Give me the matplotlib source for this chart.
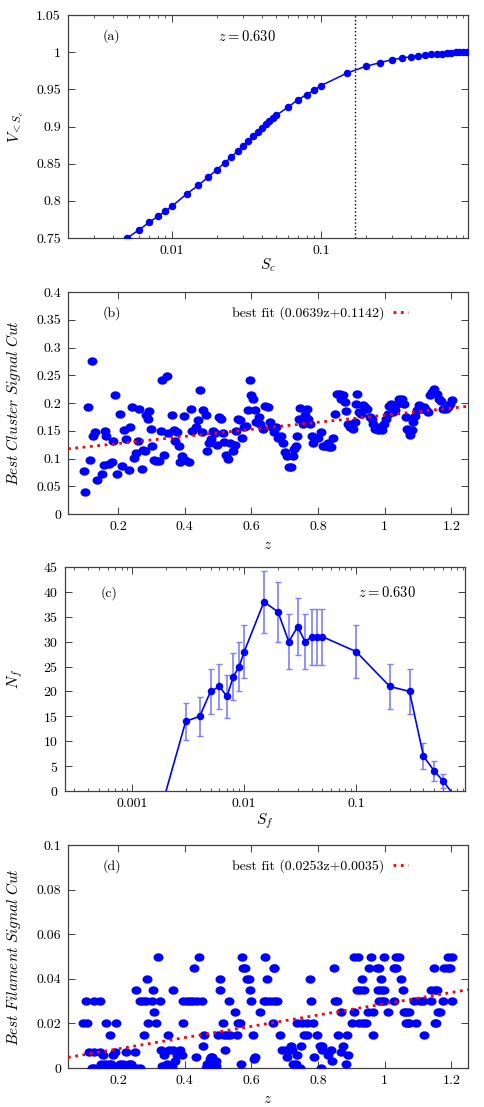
import matplotlib
matplotlib.use('Agg')
import matplotlib.pyplot as plt
from matplotlib.path import Path
from matplotlib.ticker import LogLocator, NullFormatter, FixedLocator
import numpy as np

plt.rcParams['font.family'] = ['cmr10', 'DejaVu Serif']
plt.rcParams['mathtext.fontset'] = 'cm'
plt.rcParams['axes.formatter.use_mathtext'] = True
plt.rcParams['font.size'] = 10

BLUE = '#0000ff'
EBLUE = '#7f7fff'

# (a) cumulative volume fraction vs S_c
sc = [0.005, 0.006, 0.007, 0.008, 0.009, 0.01, 0.0125, 0.015, 0.0175, 0.02, 0.0225,
      0.025, 0.0275, 0.03, 0.0325, 0.035, 0.0375, 0.04, 0.0425, 0.045, 0.0475, 0.05,
      0.06, 0.07, 0.08, 0.09, 0.1, 0.15, 0.2, 0.25, 0.3, 0.35, 0.4, 0.45, 0.5, 0.55,
      0.6, 0.65, 0.7, 0.75, 0.8, 0.85, 0.9, 0.95]
vsc = [0.750, 0.761, 0.771, 0.779, 0.786, 0.793, 0.809, 0.821, 0.832, 0.842, 0.851,
       0.859, 0.867, 0.874, 0.881, 0.887, 0.893, 0.898, 0.903, 0.908, 0.912, 0.915,
       0.926, 0.936, 0.943, 0.949, 0.955, 0.972, 0.981, 0.986, 0.990, 0.992, 0.994,
       0.995, 0.996, 0.997, 0.998, 0.998, 0.999, 0.999, 1.000, 1.000, 1.000, 1.000]
vsc_err = [0.002, 0.002, 0.002, 0.002, 0.002, 0.002, 0.002, 0.002, 0.002, 0.002, 0.002,
           0.002, 0.002, 0.002, 0.002, 0.002, 0.002, 0.002, 0.002, 0.002, 0.002, 0.002,
           0.002, 0.002, 0.002, 0.002, 0.002, 0.002, 0.002, 0.002, 0.002, 0.002, 0.002,
           0.002, 0.002, 0.002, 0.002, 0.002, 0.002, 0.002, 0.002, 0.002, 0.002, 0.002]
sc_cut = 0.17

# (b) best cluster signal cut vs z
zb = [0.097, 0.101, 0.110, 0.115, 0.122, 0.126, 0.132, 0.136, 0.153, 0.159, 0.161, 0.165,
      0.173, 0.181, 0.186, 0.191, 0.197, 0.207, 0.213, 0.218, 0.223, 0.233, 0.237, 0.241,
      0.248, 0.254, 0.259, 0.264, 0.272, 0.274, 0.280, 0.284, 0.289, 0.294, 0.298, 0.302,
      0.309, 0.314, 0.322, 0.328, 0.332, 0.339, 0.347, 0.349, 0.363, 0.367, 0.372, 0.378,
      0.382, 0.386, 0.393, 0.398, 0.400, 0.413, 0.418, 0.423, 0.435, 0.441, 0.447, 0.452,
      0.456, 0.464, 0.468, 0.474, 0.479, 0.486, 0.491, 0.498, 0.504, 0.509, 0.516, 0.518,
      0.524, 0.530, 0.536, 0.544, 0.550, 0.555, 0.559, 0.567, 0.571, 0.577, 0.585, 0.590,
      0.595, 0.599, 0.604, 0.611, 0.615, 0.622, 0.627, 0.634, 0.642, 0.650, 0.656, 0.662,
      0.668, 0.674, 0.680, 0.688, 0.696, 0.701, 0.707, 0.712, 0.718, 0.724, 0.729, 0.733,
      0.737, 0.742, 0.747, 0.754, 0.760, 0.767, 0.771, 0.776, 0.781, 0.786, 0.794, 0.801,
      0.809, 0.814, 0.821, 0.829, 0.834, 0.839, 0.845, 0.852, 0.858, 0.865, 0.870, 0.875,
      0.880, 0.885, 0.890, 0.897, 0.904, 0.910, 0.914, 0.917, 0.922, 0.928, 0.935, 0.942,
      0.948, 0.955, 0.961, 0.966, 0.971, 0.979, 0.986, 0.993, 0.999, 1.003, 1.009, 1.014,
      1.020, 1.025, 1.031, 1.037, 1.043, 1.052, 1.059, 1.064, 1.067, 1.072, 1.077, 1.082,
      1.085, 1.090, 1.096, 1.102, 1.110, 1.117, 1.124, 1.130, 1.135, 1.141, 1.149, 1.156,
      1.163, 1.169, 1.176, 1.183, 1.191, 1.197, 1.203]
cb = [0.077, 0.040, 0.192, 0.098, 0.275, 0.141, 0.147, 0.061, 0.072, 0.089, 0.150, 0.140,
      0.090, 0.093, 0.132, 0.214, 0.072, 0.181, 0.087, 0.151, 0.136, 0.079, 0.157, 0.192,
      0.101, 0.110, 0.132, 0.190, 0.081, 0.116, 0.113, 0.178, 0.172, 0.186, 0.154, 0.123,
      0.098, 0.095, 0.096, 0.149, 0.241, 0.107, 0.249, 0.146, 0.179, 0.151, 0.132, 0.147,
      0.122, 0.093, 0.104, 0.176, 0.098, 0.093, 0.189, 0.150, 0.157, 0.170, 0.223, 0.148,
      0.187, 0.178, 0.113, 0.128, 0.135, 0.149, 0.146, 0.125, 0.174, 0.172, 0.146, 0.129,
      0.107, 0.100, 0.128, 0.113, 0.125, 0.150, 0.172, 0.169, 0.137, 0.157, 0.159, 0.187,
      0.241, 0.214, 0.208, 0.187, 0.166, 0.174, 0.163, 0.154, 0.195, 0.193, 0.165, 0.157,
      0.147, 0.157, 0.137, 0.141, 0.128, 0.111, 0.104, 0.084, 0.084, 0.105, 0.117, 0.123,
      0.140, 0.171, 0.191, 0.162, 0.178, 0.190, 0.172, 0.162, 0.141, 0.128, 0.137, 0.137,
      0.147, 0.122, 0.122, 0.128, 0.120, 0.120, 0.137, 0.181, 0.217, 0.217, 0.207, 0.214,
      0.201, 0.186, 0.163, 0.157, 0.154, 0.165, 0.199, 0.216, 0.184, 0.180, 0.196, 0.193,
      0.190, 0.175, 0.172, 0.163, 0.153, 0.151, 0.157, 0.151, 0.162, 0.172, 0.181, 0.195,
      0.198, 0.184, 0.187, 0.199, 0.207, 0.208, 0.198, 0.175, 0.153, 0.149, 0.143, 0.151,
      0.165, 0.176, 0.187, 0.196, 0.190, 0.192, 0.187, 0.184, 0.214, 0.220, 0.225, 0.216,
      0.208, 0.204, 0.190, 0.189, 0.193, 0.199, 0.205]
fit_b = (0.0639, 0.1142)

# (c) number of filaments vs S_f
sf = [0.002, 0.003, 0.004, 0.005, 0.006, 0.007, 0.008, 0.009, 0.01, 0.015, 0.02, 0.025,
      0.03, 0.035, 0.04, 0.045, 0.05, 0.1, 0.2, 0.3, 0.4, 0.5, 0.6, 0.7]
nf = [0, 14, 15, 20, 21, 19, 23, 25, 28, 38, 36, 30, 33, 30, 31, 31, 31, 28, 21, 20, 7, 4, 2, 0]
nf_err = [0, 3.7, 3.9, 4.5, 4.6, 4.4, 4.8, 5.0, 5.3, 6.2, 6.0, 5.5, 5.7, 5.5, 5.6, 5.6, 5.6,
          5.3, 4.6, 4.5, 2.6, 2.0, 1.4, 0]

# (d) best filament signal cut vs z
zd = [0.319, 0.443, 0.572, 0.642, 0.909, 0.919, 0.959, 0.999, 1.034, 1.044, 1.190, 1.202,
      0.429, 0.574, 0.580, 0.667, 0.669, 0.848, 0.954, 0.977, 0.984, 1.029, 1.034, 1.147,
      1.177, 1.190, 1.195,
      0.288, 0.507, 0.587, 0.592, 0.647, 0.776, 0.931, 0.989, 1.049,
      0.253, 0.304, 0.364, 0.505, 0.595, 0.917, 0.927, 0.937, 0.979, 0.989, 0.999, 1.054,
      1.140, 1.150, 1.158,
      0.103, 0.128, 0.145, 0.265, 0.275, 0.285, 0.301, 0.326, 0.394, 0.406, 0.416, 0.426,
      0.436, 0.451, 0.534, 0.600, 0.639, 0.644, 0.657, 0.667, 0.677, 0.780, 0.850, 0.858,
      0.983, 0.991, 0.999, 1.027, 1.089, 1.105, 1.114, 1.140, 1.175, 1.202,
      0.309, 0.550, 0.625, 0.868, 0.909, 0.951, 0.964, 1.009, 1.059, 1.064, 1.074, 1.160,
      1.165,
      0.094, 0.107, 0.165, 0.193, 0.290, 0.314, 0.394, 0.515, 0.560, 0.567, 0.665, 0.738,
      0.753, 0.768, 0.785, 0.901, 0.924, 0.934, 0.944, 1.064, 1.069, 1.074, 1.094, 1.150,
      1.155,
      0.175, 0.277, 0.351, 0.459, 0.500, 0.517, 0.527, 0.537, 0.557, 0.605, 0.687, 0.758,
      0.766, 0.796, 0.861, 0.888, 0.966, 1.118,
      0.455, 0.718, 0.748, 0.806, 0.813, 0.875,
      0.329, 0.354, 0.366, 0.386, 0.520, 0.692, 0.704, 0.713, 0.723, 0.813, 0.838,
      0.113, 0.128, 0.145, 0.190, 0.225, 0.250, 0.868,
      0.155, 0.185, 0.338, 0.376, 0.391, 0.736, 0.830, 0.891,
      0.434, 0.478, 0.481, 0.610, 0.706, 0.788,
      0.476, 0.609,
      0.371, 0.489, 0.494, 0.843,
      0.150, 0.160, 0.173, 0.180, 0.205, 0.215, 0.233, 0.240, 0.346, 0.466, 0.570, 0.725,
      0.733, 0.885,
      0.331, 0.339, 0.346, 0.361, 0.494,
      0.122, 0.128, 0.145, 0.170, 0.200, 0.205, 0.220, 0.240, 0.255, 0.265, 0.464, 0.471,
      0.491, 0.738, 0.746, 0.810]
cd = ([0.05] * 12 + [0.045] * 15 + [0.04] * 9 + [0.035] * 15 + [0.03] * 34 + [0.025] * 13
      + [0.02] * 25 + [0.015] * 18 + [0.01] * 6 + [0.008] * 11 + [0.007] * 7 + [0.006] * 8
      + [0.005] * 6 + [0.004] * 2 + [0.003] * 4 + [0.002] * 14 + [0.001] * 5 + [0.0] * 16)
fit_d = (0.0253, 0.0035)

W, H = 485, 1107
fig = plt.figure(figsize=(W / 100, H / 100), dpi=100)

# slightly flattened dot, like the gnuplot point type
t = np.linspace(0, 2 * np.pi, 40)
ELLIPSE = Path(np.column_stack([np.cos(t), 0.84 * np.sin(t)]), closed=True)


def box(left, top, right, bottom):
    return [left / W, 1 - bottom / H, (right - left) / W, (bottom - top) / H]


def style(ax):
    for s in ax.spines.values():
        s.set_color('#404040')
        s.set_linewidth(0.9)
    ax.tick_params(which='both', direction='in', top=True, right=True, colors='#404040',
                   labelcolor='black', labelsize=10)
    ax.tick_params(which='major', length=5, width=0.7, pad=5)
    ax.tick_params(which='minor', length=2.5, width=0.6)


def labels(ax, xlab, ylab, xpos, ypos):
    ax.set_xlabel(xlab, fontsize=11, va='center')
    ax.set_ylabel(ylab, fontsize=11, va='center')
    ax.xaxis.set_label_coords(0.5, xpos)
    ax.yaxis.set_label_coords(ypos, 0.5)


def log_ticks(ax, major, ticklabels):
    ax.xaxis.set_major_locator(FixedLocator(major))
    ax.set_xticklabels(ticklabels)
    ax.xaxis.set_minor_locator(LogLocator(base=10, subs=range(2, 10), numticks=20))
    ax.xaxis.set_minor_formatter(NullFormatter())


# panel a
ax = fig.add_axes(box(68, 15, 468, 238))
ax.set_xscale('log')
ax.errorbar(sc, vsc, yerr=vsc_err, fmt='none', ecolor=EBLUE, elinewidth=0.8, capsize=1.8,
            zorder=2)
ax.plot(sc, vsc, '-o', color=BLUE, ms=4.4, lw=1.1, zorder=3)
ax.axvline(sc_cut, color='black', ls=':', lw=1)
ax.set_xlim(0.002, 0.97)
ax.set_ylim(0.75, 1.05)
log_ticks(ax, [0.01, 0.1], ['0.01', '0.1'])
ax.set_yticks([0.75, 0.8, 0.85, 0.9, 0.95, 1.0, 1.05])
ax.set_yticklabels(['0.75', '0.8', '0.85', '0.9', '0.95', '1', '1.05'])
ax.text(0.087, 0.905, '(a)', transform=ax.transAxes, ha='left', va='center')
ax.text(0.448, 0.905, r'$z = 0.630$', transform=ax.transAxes, ha='center', va='center',
        fontsize=10.5)
labels(ax, r'$S_c$', r'$V_{<S_c}$', -0.122, -0.13)
style(ax)


def scatter_panel(box_px, z, c, fit, ylim, yticks, ylabels, tag, ylab):
    ax = fig.add_axes(box(*box_px))
    ax.plot(z, c, ls='none', marker=ELLIPSE, color=BLUE, ms=7.2, mew=0, zorder=3)
    xs = [0.05, 1.25]
    ax.plot(xs, [fit[0] * x + fit[1] for x in xs], ':', color='#ff0000', lw=2,
            label='best fit (%.4fz+%.4f)' % fit, zorder=4)
    ax.set_xlim(0.05, 1.25)
    ax.set_ylim(*ylim)
    ax.set_xticks([0.2, 0.4, 0.6, 0.8, 1.0, 1.2])
    ax.set_xticklabels(['0.2', '0.4', '0.6', '0.8', '1', '1.2'])
    ax.set_yticks(yticks)
    ax.set_yticklabels(ylabels)
    ax.text(0.087, 0.905, tag, transform=ax.transAxes, ha='left', va='center')
    ax.legend(loc='center right', bbox_to_anchor=(0.85, 0.905), frameon=False,
              markerfirst=False, handlelength=1.1, handletextpad=0.6, fontsize=10,
              borderaxespad=0, borderpad=0)
    labels(ax, r'$z$', ylab, -0.14, -0.135)
    style(ax)
    return ax


scatter_panel((68, 292, 468, 514), zb, cb, fit_b, (0, 0.4),
              [0, 0.05, 0.1, 0.15, 0.2, 0.25, 0.3, 0.35, 0.4],
              ['0', '0.05', '0.1', '0.15', '0.2', '0.25', '0.3', '0.35', '0.4'],
              '(b)', r'$\mathit{Best\ Cluster\ Signal\ Cut}$')

# panel c
ax = fig.add_axes(box(65, 567, 465, 791))
ax.set_xscale('log')
ax.errorbar(sf[1:-1], nf[1:-1], yerr=nf_err[1:-1], fmt='none', ecolor=EBLUE,
            elinewidth=1.2, capsize=2, capthick=1, zorder=2)
ax.plot(sf, nf, '-', color=BLUE, lw=1.2, zorder=3)
ax.plot(sf[1:-1], nf[1:-1], 'o', color=BLUE, ms=4.4, zorder=3)
ax.set_xlim(0.00025, 0.94)
ax.set_ylim(0, 45)
log_ticks(ax, [0.001, 0.01, 0.1], ['0.001', '0.01', '0.1'])
ax.set_yticks(range(0, 46, 5))
ax.text(0.09, 0.885, '(c)', transform=ax.transAxes, ha='left', va='center')
ax.text(0.805, 0.885, r'$z = 0.630$', transform=ax.transAxes, ha='center', va='center',
        fontsize=10.5)
labels(ax, r'$S_f$', r'$N_f$', -0.135, -0.125)
style(ax)

scatter_panel((68, 845, 468, 1068), zd, cd, fit_d, (0, 0.1),
              [0, 0.02, 0.04, 0.06, 0.08, 0.1],
              ['0', '0.02', '0.04', '0.06', '0.08', '0.1'],
              '(d)', r'$\mathit{Best\ Filament\ Signal\ Cut}$')

fig.savefig('out.png', dpi=100)
